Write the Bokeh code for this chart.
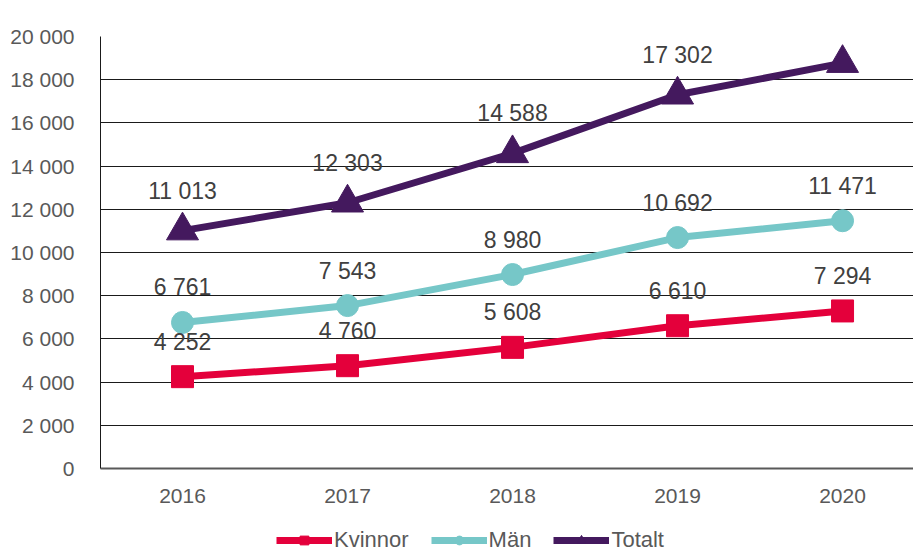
from bokeh.plotting import figure
from bokeh.layouts import column
from bokeh.models import Range1d, FixedTicker, Legend, LegendItem, ColumnDataSource, CustomJSTickFormatter, LabelSet
from bokeh.core.properties import value
from bokeh.embed import file_html
from bokeh.resources import INLINE

years = [2016, 2017, 2018, 2019, 2020]
kvinnor = [4252, 4760, 5608, 6610, 7294]
man = [6761, 7543, 8980, 10692, 11471]
totalt = [11013, 12303, 14588, 17302, 18765]
y_ticks = [0, 2000, 4000, 6000, 8000, 10000, 12000, 14000, 16000, 18000, 20000]

RED = "#E4003B"
TEAL = "#76C7C8"
PURPLE = "#44195E"
FONT = "Liberation Sans"

def fmt(v):
    return f"{v:,}".replace(",", " ")

p = figure(width=913, height=510, output_backend="svg", toolbar_location=None,
           x_range=Range1d(2015.503, 2020.43), y_range=Range1d(0, 20000),
           min_border_left=100, min_border_right=0, min_border_top=36, min_border_bottom=42)
p.outline_line_color = None
p.background_fill_color = "white"
p.border_fill_color = "white"

p.xaxis.ticker = FixedTicker(ticks=years)
p.yaxis.ticker = FixedTicker(ticks=y_ticks)
p.yaxis.formatter = CustomJSTickFormatter(code="return tick == 0 ? '0' : (Math.floor(tick/1000)) + ' 000';")
for ax in (p.xaxis[0], p.yaxis[0]):
    ax.major_tick_line_color = None
    ax.minor_tick_line_color = None
    ax.major_label_text_font = FONT
    ax.major_label_text_font_size = "21px"
    ax.major_label_text_color = "#595959"
p.yaxis.axis_line_color = "#1a1a1a"
p.yaxis.axis_line_width = 1
p.xaxis.axis_line_color = "#595959"
p.xaxis.axis_line_width = 2
p.yaxis.major_label_standoff = 20
p.xaxis.major_label_standoff = 14
p.xgrid.grid_line_color = None
p.ygrid.grid_line_color = "#1a1a1a"
p.ygrid.grid_line_width = 1

series = [
    ("Kvinnor", kvinnor, RED, "square", 22, -35),
    ("Män", man, TEAL, "circle", 22, -35),
    ("Totalt", totalt, PURPLE, "triangle", 32, -40),
]

# legend strip below the chart
p2 = figure(width=913, height=43, output_backend="svg", toolbar_location=None,
            x_range=Range1d(0, 1), y_range=Range1d(0, 1),
            min_border_left=0, min_border_right=0, min_border_top=0, min_border_bottom=0)
p2.axis.visible = False
p2.grid.visible = False
p2.outline_line_color = None
p2.border_fill_color = "white"

items = []
for name, vals, col, mk, sz, off in series:
    src = ColumnDataSource(dict(x=years, y=vals))
    p.line("x", "y", source=src, line_color=col, line_width=7)
    p.scatter("x", "y", source=src, marker=mk, size=sz, fill_color=col, line_color=col)
    ln2 = p2.line("x", "y", source=src, line_color=col, line_width=7)
    sc2 = p2.scatter("x", "y", source=src, marker=mk, size=sz, fill_color=col, line_color=col)
    items.append(LegendItem(label=name, renderers=[ln2, sc2]))
for name, vals, col, mk, sz, off in series:
    src = ColumnDataSource(dict(x=years, y=vals, lbl=[fmt(v) for v in vals]))
    labels = LabelSet(x="x", y="y", text="lbl", source=src, y_offset=-off,
                      text_align="center", text_baseline="middle",
                      text_font=value(FONT), text_font_size=value("23px"), text_color="#404040")
    p.add_layout(labels)

legend = Legend(items=items, orientation="horizontal", location=(176, 0),
                glyph_width=56, glyph_height=22, label_standoff=2, spacing=22,
                padding=0, margin=0, border_line_color=None, background_fill_alpha=0,
                label_text_font=FONT, label_text_font_size="22px", label_text_color="#595959")
p2.add_layout(legend, "center")

layout = column(p, p2, spacing=0)
open("out.html", "w").write(file_html(layout, INLINE))
